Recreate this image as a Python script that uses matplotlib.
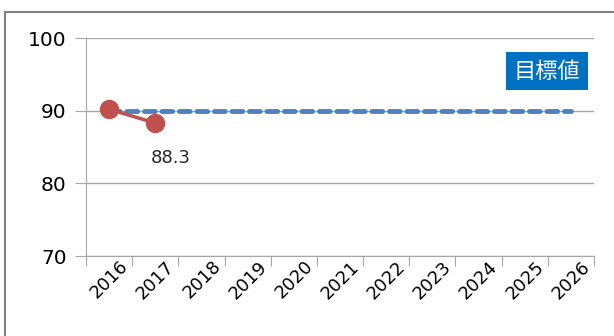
import matplotlib.pyplot as plt
import matplotlib.transforms as mtransforms
from matplotlib.patches import Rectangle

plt.rcParams['font.family'] = ['DejaVu Sans', 'Noto Sans CJK JP']

years = ['2016', '2017', '2018', '2019', '2020', '2021',
         '2022', '2023', '2024', '2025', '2026']
actual = [90.2, 88.3]
target = [90] * len(years)
target_label = '目標値'

W, H = 614, 336
fig = plt.figure(figsize=(W / 100, H / 100), dpi=100)
ax = fig.add_axes([86 / W, 1 - 256 / H, (594 - 86) / W, (256 - 38) / H])

x = list(range(len(years)))
ax.plot(x, target, color='#4F81BD', lw=3.5, ls=(0, (2.2, 1.4)),
        dash_capstyle='round', zorder=3)
ax.plot(x[:len(actual)], actual, color='#C0504D', lw=2.5, marker='o',
        markersize=13, zorder=4)
ax.annotate(f'{actual[1]}', (x[1], actual[1]), xytext=(11, -25),
            textcoords='offset points', ha='center', va='center',
            fontsize=13, color='#262626')

ax.set_xlim(-0.5, len(years) - 0.5)
ax.set_ylim(70, 100)
ax.set_yticks([70, 80, 90, 100])
ax.set_xticks([i - 0.5 for i in range(len(years) + 1)], minor=False)
ax.set_xticklabels([])
ax.set_xticks(x, minor=True)
ax.set_xticklabels(years, minor=True, rotation=45, ha='right',
                   rotation_mode='anchor', fontsize=13)
ax.tick_params(axis='x', which='minor', length=0, pad=1)
ax.tick_params(axis='x', which='major', length=7, color='#A6A6A6')
ax.tick_params(axis='y', length=8, color='#A6A6A6', labelsize=14.5, pad=6)
shift = mtransforms.ScaledTranslation(10 / 100, 0, fig.dpi_scale_trans)
for lbl in ax.get_xticklabels(minor=True):
    lbl.set_transform(lbl.get_transform() + shift)

ax.grid(axis='y', color='#A6A6A6', lw=1)
ax.set_axisbelow(True)
for s in ['top', 'right']:
    ax.spines[s].set_visible(False)
for s in ['left', 'bottom']:
    ax.spines[s].set_color('#A6A6A6')

ax.text(547 / W, 1 - 71 / H, target_label, transform=fig.transFigure,
        ha='center', va='center', color='white', fontsize=16,
        family=['Noto Sans CJK JP'],
        bbox=dict(boxstyle='square,pad=0.35', fc='#0070C0', ec='none'))

fig.patches.append(Rectangle((5 / W, -0.1), 1.2, 1 - 12 / H + 0.1,
                             transform=fig.transFigure, fill=False,
                             ec='#808080', lw=1.5))

fig.savefig('out.png', dpi=100)
